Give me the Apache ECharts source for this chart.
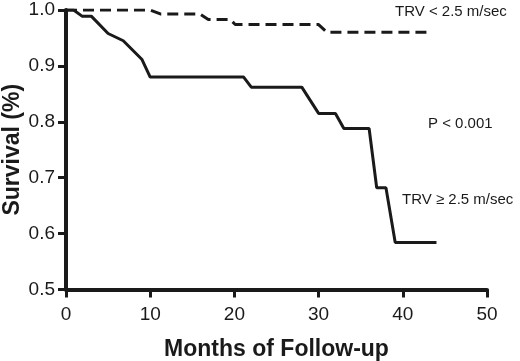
<!DOCTYPE html>
<html>
<head>
<meta charset="utf-8">
<script src="https://cdn.jsdelivr.net/npm/echarts@6/dist/echarts.min.js"></script>
<style>
  html, body { margin: 0; padding: 0; background: #fff; }
  #main { width: 520px; height: 361px; }
</style>
</head>
<body>
<div id="main"></div>
<script>
// Kaplan-Meier curves (months, survival)
const lowMonths = [0, 10.0, 11.2, 15.9, 16.9, 19.5, 20.1, 30.0, 31.0, 43.5];
const lowSurvival = [1.0, 1.0, 0.993, 0.993, 0.983, 0.983, 0.974, 0.974, 0.960, 0.960];

const highMonths = [0, 0.9, 1.9, 3.0, 5.0, 6.8, 9.0, 10.0, 21.1, 22.0, 28.0, 30.0, 32.0, 33.0, 36.0, 36.9, 38.0, 39.1, 44.0];
const highSurvival = [1.0, 1.0, 0.989, 0.989, 0.958, 0.945, 0.912, 0.880, 0.880, 0.862, 0.862, 0.815, 0.815, 0.788, 0.788, 0.682, 0.682, 0.584, 0.584];

const xTicks = [0, 10, 20, 30, 40, 50];
const yTicks = [0.5, 0.6, 0.7, 0.8, 0.9, 1.0];

const ink = "#1a1a1a";
const font = "Liberation Sans, Arial, sans-serif";

const chart = echarts.init(document.getElementById("main"));

chart.setOption({
  animation: false,
  grid: { left: 66, right: 33, top: 10, bottom: 71.5, containLabel: false, outerBoundsMode: "none" },
  xAxis: {
    type: "value",
    min: xTicks[0],
    max: xTicks[xTicks.length - 1],
    interval: 10,
    name: "Months of Follow-up",
    nameLocation: "middle",
    nameGap: 49,
    nameMoveOverlap: false,
    nameTextStyle: { fontFamily: font, fontWeight: "bold", fontSize: 23, color: ink },
    axisLine: { lineStyle: { color: ink, width: 4 } },
    axisTick: { length: 8, lineStyle: { color: ink, width: 3 } },
    axisLabel: { margin: 16, fontFamily: font, fontSize: 19, color: ink },
    splitLine: { show: false }
  },
  yAxis: {
    type: "value",
    min: yTicks[0],
    max: yTicks[yTicks.length - 1],
    interval: 0.1,
    name: "Survival (%)",
    nameLocation: "middle",
    nameGap: 42,
    nameMoveOverlap: false,
    nameTextStyle: { fontFamily: font, fontWeight: "bold", fontSize: 23, color: ink },
    axisLine: { show: true, lineStyle: { color: ink, width: 4 } },
    axisTick: { show: true, length: 8, lineStyle: { color: ink, width: 3 } },
    axisLabel: {
      margin: 11,
      fontFamily: font,
      fontSize: 19,
      color: ink,
      formatter: (v) => v.toFixed(1)
    },
    splitLine: { show: false }
  },
  series: [
    {
      name: "TRV < 2.5 m/sec",
      type: "line",
      symbol: "none",
      data: lowMonths.map((m, i) => [m, lowSurvival[i]]),
      lineStyle: { color: ink, width: 3, type: [11, 6] }
    },
    {
      name: "TRV ≥ 2.5 m/sec",
      type: "line",
      symbol: "none",
      data: highMonths.map((m, i) => [m, highSurvival[i]]),
      lineStyle: { color: ink, width: 3 }
    }
  ],
  graphic: [
    {
      type: "text",
      left: 395,
      top: 4,
      style: { text: "TRV < 2.5 m/sec", fontFamily: font, fontSize: 15, fill: ink }
    },
    {
      type: "text",
      left: 428,
      top: 116,
      style: { text: "P < 0.001", fontFamily: font, fontSize: 15, fill: ink }
    },
    {
      type: "text",
      left: 402,
      top: 192,
      style: { text: "TRV ≥ 2.5 m/sec", fontFamily: font, fontSize: 15, fill: ink }
    }
  ]
});
</script>
</body>
</html>
